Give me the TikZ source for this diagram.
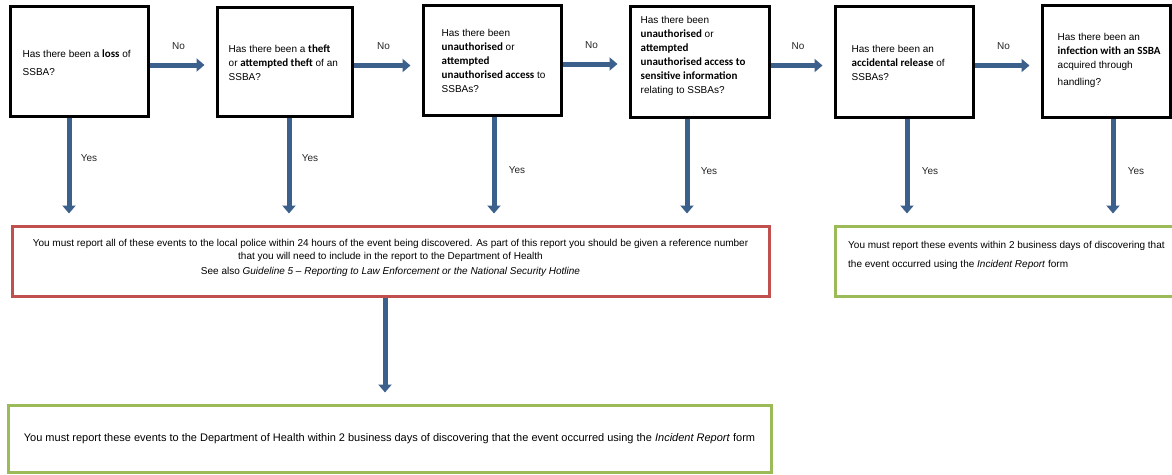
\documentclass[tikz,border=0pt]{standalone}
\usepackage{fontspec}
\setmainfont{Liberation Sans}
\newfontfamily\calfont{Carlito}
\usetikzlibrary{arrows.meta}
\definecolor{arrblue}{RGB}{60,96,140}
\definecolor{redb}{RGB}{192,80,77}
\definecolor{greenb}{RGB}{155,187,89}
\newcommand\bw[1]{{\calfont\bfseries\fontsize{11}{14}\selectfont #1}}
\begin{document}
\begin{tikzpicture}[x=1pt,y=-1pt,
  every node/.style={font=\fontsize{10}{14}\selectfont},
  qbox/.style={draw=black,line width=3pt,inner sep=0pt},
  qtext/.style={anchor=west,align=left,inner sep=0pt},
  rbox/.style={draw=redb,line width=3pt,inner sep=0pt},
  gbox/.style={draw=greenb,line width=3pt,inner sep=0pt},
  arr/.style={draw=arrblue,line width=5pt,-{Triangle[width=13pt,length=8pt]},shorten >=11pt},
  lbl/.style={text=black!85,inner sep=0pt}]
\clip (0,0) rectangle (1172,474);
\fill[white] (0,0) rectangle (1172,474);

% question boxes
\node[qbox,minimum width=138pt,minimum height=110pt] (b1) at (79,61) {};
\node[qbox,minimum width=135pt,minimum height=109pt] (b2) at (284.5,61.5) {};
\node[qbox,minimum width=138pt,minimum height=110pt] (b3) at (492,60) {};
\node[qbox,minimum width=139pt,minimum height=111pt] (b4) at (699.5,61.5) {};
\node[qbox,minimum width=138pt,minimum height=111pt] (b5) at (904,61.5) {};
\node[qbox,minimum width=128pt,minimum height=112pt] (b6) at (1106,61) {};

\node[qtext] (t1) at ([xshift=14pt,yshift=-2pt]b1.west) {Has there been a \bw{loss} of\\[4pt]SSBA?};
\node[qtext] (t2) at ([xshift=13pt,yshift=-1pt]b2.west) {Has there been a \bw{theft}\\or \bw{attempted theft} of an\\SSBA?};
\node[qtext] (t3) at ([xshift=20pt,yshift=-1pt]b3.west) {Has there been\\\bw{unauthorised} or\\\bw{attempted}\\\bw{unauthorised access} to\\SSBAs?};
\node[qtext] (t4) at ([xshift=12pt,yshift=6pt]b4.west) {Has there been\\\bw{unauthorised} or\\\bw{attempted}\\\bw{unauthorised access to}\\\bw{sensitive information}\\relating to SSBAs?};
\node[qtext] (t5) at ([xshift=18pt,yshift=-1pt]b5.west) {Has there been an\\\bw{accidental release} of\\SSBAs?};
\node[qtext] (t6) at ([xshift=17pt,yshift=1pt]b6.west) {Has there been an\\\bw{infection with an SSBA}\\acquired through\\[3pt]handling?};

% outcome boxes
\node[rbox,minimum width=757pt,minimum height=70pt,align=center] (red) at (390.5,261)
  {You must report all of these events to the local police within 24 hours of the event being discovered. As part of this report you should be given a reference number\\[-1pt]
   that you will need to include in the report to the Department of Health\\[1pt]
   See also \textit{Guideline 5 – Reporting to Law Enforcement or the National Security Hotline}\\[-5pt]};
\node[gbox,minimum width=345pt,minimum height=70pt] (g2) at (1007.5,261) {};
\node[anchor=north west,align=left,inner sep=0pt,font=\fontsize{10}{19}\selectfont] (g2t) at (848,241)
  {You must report these events within 2 business days of discovering that\\the event occurred using the \textit{Incident Report} form};
\node[gbox,minimum width=763pt,minimum height=67pt,font=\fontsize{11}{14}\selectfont] (g1) at (389.5,438.5)
  {You must report these events to the Department of Health within 2 business days of discovering that the event occurred using the \textit{Incident Report} form};

% No arrows
\draw[arr] ([yshift=-4pt]b1.east) -- ([yshift=-4pt]b1.east -| b2.west) node[lbl,midway,yshift=19pt,xshift=-4pt] {No};
\draw[arr] ([yshift=-4pt]b2.east) -- ([yshift=-4pt]b2.east -| b3.west) node[lbl,midway,yshift=19pt,xshift=-4pt] {No};
\draw[arr] ([yshift=-4pt]b3.east) -- ([yshift=-4pt]b3.east -| b4.west) node[lbl,midway,yshift=19pt,xshift=-4pt] {No};
\draw[arr] ([yshift=-4pt]b4.east) -- ([yshift=-4pt]b4.east -| b5.west) node[lbl,midway,yshift=19pt,xshift=-4pt] {No};
\draw[arr] ([yshift=-4pt]b5.east) -- ([yshift=-4pt]b5.east -| b6.west) node[lbl,midway,yshift=19pt,xshift=-4pt] {No};

% Yes arrows
\draw[arr] ([xshift=-10pt]b1.south) -- ([xshift=-10pt]b1.south |- red.north) node[lbl,pos=0.38,xshift=20pt] {Yes};
\draw[arr] ([xshift=4.5pt]b2.south) -- ([xshift=4.5pt]b2.south |- red.north) node[lbl,pos=0.38,xshift=21pt] {Yes};
\draw[arr] ([xshift=2pt]b3.south) -- ([xshift=2pt]b3.south |- red.north) node[lbl,pos=0.5,xshift=23pt] {Yes};
\draw[arr] ([xshift=-12.5pt]b4.south) -- ([xshift=-12.5pt]b4.south |- red.north) node[lbl,pos=0.5,xshift=22pt] {Yes};
\draw[arr] ([xshift=3pt]b5.south) -- ([xshift=3pt]b5.south |- g2.north) node[lbl,pos=0.5,xshift=23pt] {Yes};
\draw[arr] ([xshift=7pt]b6.south) -- ([xshift=7pt]b6.south |- g2.north) node[lbl,pos=0.5,xshift=23pt] {Yes};

% red to green
\draw[arr] ([xshift=-5.5pt]red.south) -- ([xshift=-5.5pt]red.south |- g1.north);
\end{tikzpicture}
\end{document}
